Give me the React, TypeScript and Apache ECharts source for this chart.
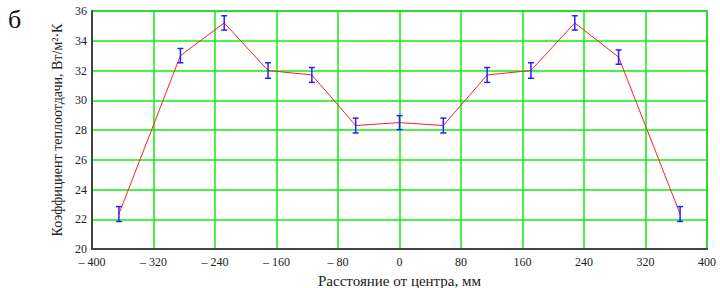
import React, { useEffect, useRef } from "react";
import * as echarts from "echarts";

const distances = [-365, -285, -228, -171, -114, -57, 0, 57, 114, 171, 228, 285, 365];
const coefficients = [22.35, 33.0, 35.2, 32.0, 31.7, 28.3, 28.5, 28.3, 31.7, 32.0, 35.2, 32.9, 22.35];
const errors = [0.5, 0.48, 0.48, 0.52, 0.5, 0.5, 0.47, 0.5, 0.5, 0.52, 0.48, 0.48, 0.5];
const xTicks = [-400, 400, 80];
const yTicks = [20, 36, 2];

const SERIF = "'Liberation Serif', 'Times New Roman', serif";

export default function App() {
  const ref = useRef<HTMLDivElement>(null);
  useEffect(() => {
    if (!ref.current) return;
    const chart = echarts.init(ref.current, undefined, { renderer: "svg" });
    const lineData = distances.map((x, i) => [x, coefficients[i]]);
    const errData = distances.map((x, i) => [x, coefficients[i] - errors[i], coefficients[i] + errors[i]]);
    chart.setOption({
      animation: false,
      backgroundColor: "#ffffff",
      grid: {
        left: 92,
        right: 13,
        top: 11,
        bottom: 39,
        outerBoundsMode: "none",
        containLabel: false,
        show: true,
        borderColor: "#777777",
        borderWidth: 1.5,
      },
      graphic: [
        {
          type: "text",
          left: 8,
          top: 6,
          style: { text: "б", fontSize: 26, fontFamily: SERIF, fill: "#111" },
        },
      ],
      xAxis: {
        type: "value",
        min: xTicks[0],
        max: xTicks[1],
        interval: xTicks[2],
        name: "Расстояние от центра, мм",
        nameLocation: "middle",
        nameGap: 24,
        nameTextStyle: { fontFamily: SERIF, fontSize: 15, color: "#222" },
        axisLine: { show: true, onZero: false, lineStyle: { color: "#444", width: 2 } },
        axisTick: { show: false },
        axisLabel: {
          fontFamily: SERIF,
          fontSize: 12,
          color: "#222",
          margin: 7,
          formatter: (v: number) => (v < 0 ? "– " + Math.abs(v) : String(v)),
        },
        splitLine: { show: true, lineStyle: { color: "#11ee11", width: 1.5 } },
      },
      yAxis: {
        type: "value",
        min: yTicks[0],
        max: yTicks[1],
        interval: yTicks[2],
        name: "Коэффициент теплоотдачи, Вт/м²·К",
        nameLocation: "middle",
        nameGap: 22,
        nameRotate: 90,
        nameTextStyle: { fontFamily: SERIF, fontSize: 14, color: "#222" },
        axisLine: { show: true, onZero: false, lineStyle: { color: "#444", width: 2 } },
        axisTick: { show: false },
        axisLabel: { fontFamily: SERIF, fontSize: 12, color: "#222", margin: 5 },
        splitLine: { show: true, lineStyle: { color: "#11ee11", width: 1.5 } },
      },
      series: [
        {
          type: "line",
          data: lineData,
          showSymbol: false,
          symbol: "none",
          lineStyle: { color: "#ff2020", width: 1 },
          z: 3,
        },
        {
          type: "custom",
          data: errData,
          z: 4,
          renderItem: (params: any, api: any) => {
            const x = api.value(0);
            const lo = api.coord([x, api.value(1)]);
            const hi = api.coord([x, api.value(2)]);
            const w = 3;
            const style = { stroke: "#2222ff", lineWidth: 1.5 };
            return {
              type: "group",
              children: [
                { type: "line", shape: { x1: lo[0], y1: lo[1], x2: hi[0], y2: hi[1] }, style },
                { type: "line", shape: { x1: lo[0] - w, y1: lo[1], x2: lo[0] + w, y2: lo[1] }, style },
                { type: "line", shape: { x1: hi[0] - w, y1: hi[1], x2: hi[0] + w, y2: hi[1] }, style },
              ],
            };
          },
        },
      ],
    });
    return () => chart.dispose();
  }, []);
  return (
    <div
      ref={ref}
      style={{ position: "absolute", left: 0, top: 0, width: 720, height: 288 }}
    />
  );
}
